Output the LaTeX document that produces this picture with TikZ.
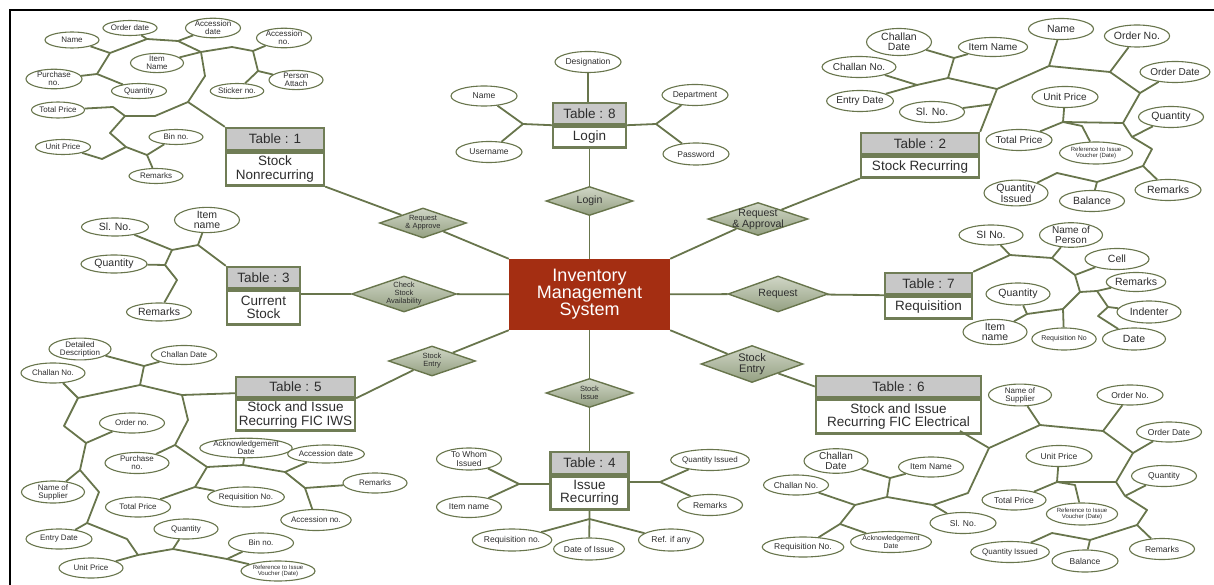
\documentclass[tikz,border=0pt]{standalone}
\usepackage{fontspec}
\setmainfont{Liberation Sans}
\usetikzlibrary{shapes.geometric,calc}
\definecolor{olv}{RGB}{104,117,76}
\definecolor{tblline}{RGB}{112,125,86}
\definecolor{hdr}{RGB}{200,200,200}
\definecolor{corefill}{RGB}{164,46,18}
\definecolor{dtop}{RGB}{208,214,198}
\definecolor{dbot}{RGB}{148,160,130}
\definecolor{ink}{RGB}{45,45,45}
\begin{document}
\begin{tikzpicture}[x=1pt,y=-1pt,
  attr/.style={ellipse, draw=olv, line width=1.1pt, fill=white, inner sep=0pt, align=center, text=ink},
  sz/.style 2 args={minimum width=#1, minimum height=#2},
  fA/.style={font=\fontsize{8}{8}\selectfont},
  fB/.style={font=\fontsize{8.5}{8.5}\selectfont},
  fC/.style={font=\fontsize{10.5}{10.5}\selectfont},
  fD/.style={font=\fontsize{6}{6.5}\selectfont},
  fE/.style={font=\fontsize{7}{7.5}\selectfont},
  fF/.style={font=\fontsize{10}{10}\selectfont},
  lnk/.style={draw=olv, line width=1.8pt, line join=round},
  thead/.style={rectangle, draw=tblline, line width=2.4pt, fill=hdr, inner sep=0pt, text=ink, font=\fontsize{13.5}{14}\selectfont},
  tbody/.style={rectangle, draw=tblline, line width=2.4pt, fill=white, inner sep=0pt, align=center, text=ink, font=\fontsize{13.5}{13.5}\selectfont},
  rel/.style={diamond, draw=olv, line width=1.4pt, top color=dtop, bottom color=dbot, inner sep=0pt},
  dlS/.style={align=center, inner sep=0pt, text=ink, font=\fontsize{7.5}{8}\selectfont},
  dlL/.style={align=center, inner sep=0pt, text=ink, font=\fontsize{10.5}{11}\selectfont},
]
\useasboundingbox (0,0) rectangle (1214,585);

% outer frame
\draw[black, line width=2.4pt] (10,585) -- (10,10) -- (1214,10);

% ---------- central entity ----------
\node[rectangle, fill=corefill, minimum width=161, minimum height=71, inner sep=0pt, text=white, align=center, font=\fontsize{18}{17}\selectfont] (core) at (589.5,294.5) {Inventory\\Management\\System};

% ---------- relationships ----------
\node[rel, sz={87}{30}, label={[dlS]center:Request\\\& Approve}] (dra) at (423,223) {};
\node[rel, sz={105}{36}, label={[dlS]center:Check\\Stock\\Availability}] (dchk) at (404,294) {};
\node[rel, sz={87}{29}, label={[dlL]center:Login}] (dlogin) at (589.5,201) {};
\node[rel, sz={100}{33}, label={[dlL]center:Request\\\& Approval}] (dapv) at (758,219) {};
\node[rel, sz={100}{36}, label={[dlL]center:Request}] (dreq) at (778,294) {};
\node[rel, sz={87}{30}, label={[dlS]center:Stock\\Entry}] (dsel) at (432,361) {};
\node[rel, sz={87}{29}, label={[dlS]center:Stock\\Issue}] (dsi) at (589.5,393) {};
\node[rel, sz={102}{37}, label={[dlL,font=\fontsize{11}{11.5}\selectfont]center:Stock\\Entry}] (dser) at (752,364) {};

% ---------- tables ----------
\node[thead, sz={98}{22}] (t1h) at (275,139) {Table : 1};
\node[tbody, sz={98}{33}, anchor=north] (t1b) at (t1h.south) {Stock\\Nonrecurring};
\node[thead, sz={73}{21}] (t8h) at (589.5,113.5) {Table : 8};
\node[tbody, sz={73}{21}, anchor=north] (t8b) at (t8h.south) {Login};
\node[thead, sz={118}{21}] (t2h) at (920,143.5) {Table : 2};
\node[tbody, sz={118}{21}, anchor=north] (t2b) at (t2h.south) {Stock Recurring};
\node[thead, sz={73}{21}] (t3h) at (263.5,277.5) {Table : 3};
\node[tbody, sz={73}{34}, anchor=north] (t3b) at (t3h.south) {Current\\Stock};
\node[thead, sz={87}{21}] (t7h) at (928.5,283.5) {Table : 7};
\node[tbody, sz={87}{22}, anchor=north] (t7b) at (t7h.south) {Requisition};
\node[thead, sz={119}{20}] (t5h) at (295.5,387) {Table : 5};
\node[tbody, sz={119}{31}, anchor=north] (t5b) at (t5h.south) {Stock and Issue\\Recurring FIC IWS};
\node[thead, sz={78}{22}] (t4h) at (589.5,463) {Table : 4};
\node[tbody, sz={78}{33}, anchor=north] (t4b) at (t4h.south) {Issue\\Recurring};
\node[thead, sz={165}{21}] (t6h) at (898.5,386.5) {Table : 6};
\node[tbody, sz={165}{34}, anchor=north] (t6b) at (t6h.south) {Stock and Issue\\Recurring FIC Electrical};

% ---------- links between entities ----------
\draw[lnk] (t1b.south east) -- (dra) -- (core.north west);
\draw[lnk] (t8b.south) -- (dlogin) -- (core);
\draw[lnk] (t2b.south west) -- (dapv) -- (core.north east);
\draw[lnk] (t3b.east |- dchk) -- (dchk) -- (core);
\draw[lnk] (core) -- (dreq) -- (t7b.north west);
\draw[lnk] (t5h.south east) -- (dsel) -- (core.south west);
\draw[lnk] (core) -- (dsi) -- (t4h.north);
\draw[lnk] (core.south east) -- (dser) -- (t6h.west);

% ---------- Table 1 attributes ----------
\node[attr,sz={54}{16},fA] (n1name) at (72,40) {Name};
\node[attr,sz={54}{15},fA] (n1od) at (130,28) {Order date};
\node[attr,sz={55}{19},fA] (n1ad) at (213,28) {Accession\\date};
\node[attr,sz={55}{18},fA] (n1an) at (284,38) {Accession\\no.};
\node[attr,sz={53}{17},fA] (n1it) at (157,63) {Item\\Name};
\node[attr,sz={56}{17},fA] (n1pn) at (54,79) {Purchase\\no.};
\node[attr,sz={55}{15},fA] (n1qt) at (139,91) {Quantity};
\node[attr,sz={54}{19},fA] (n1pa) at (296,80) {Person\\Attach};
\node[attr,sz={53}{15},fA] (n1st) at (237,91) {Sticker no.};
\node[attr,sz={53}{16},fA] (n1tp) at (58,110) {Total Price};
\node[attr,sz={54}{15},fA] (n1bn) at (176,137) {Bin no.};
\node[attr,sz={55}{15},fA] (n1up) at (63,147) {Unit Price};
\node[attr,sz={54}{15},fA] (n1rm) at (156,176) {Remarks};
\coordinate (j1a) at (188,102);
\coordinate (j1b) at (205,76);
\coordinate (j1c) at (201,52);
\coordinate (j1d) at (178,41);
\coordinate (j1e) at (147,39);
\coordinate (j1f) at (110,53);
\coordinate (j1g) at (97,74);
\coordinate (j1h) at (232,47);
\coordinate (j1i) at (253,51);
\coordinate (j1j) at (258,71);
\coordinate (j1k) at (155,116);
\coordinate (j1l) at (125,116);
\coordinate (j1m) at (113,107);
\coordinate (j1n) at (110,133);
\coordinate (j1o) at (126,147);
\coordinate (j1p) at (147,155);
\coordinate (j1q) at (102,159);
\draw[lnk] (t1h.north west) -- (j1a) -- (j1b) -- (j1c) -- (j1d) -- (j1e) -- (j1f) -- (j1g);
\draw[lnk] (j1c) -- (n1it);
\draw[lnk] (j1c) -- (j1h) -- (j1i) -- (n1an);
\draw[lnk] (j1i) -- (j1j) -- (n1pa);
\draw[lnk] (j1j) -- (n1st);
\draw[lnk] (j1d) -- (n1ad);
\draw[lnk] (j1e) -- (n1od);
\draw[lnk] (j1f) -- (n1name);
\draw[lnk] (j1g) -- (n1pn);
\draw[lnk] (j1g) -- (n1qt);
\draw[lnk] (j1a) -- (j1k) -- (j1l) -- (j1m) -- (n1tp);
\draw[lnk] (j1l) -- (j1n) -- (j1o) -- (j1p) -- (n1bn);
\draw[lnk] (j1o) -- (j1q) -- (n1up);
\draw[lnk] (j1p) -- (n1rm);

% ---------- Table 8 attributes ----------
\node[attr,sz={66}{21},fB] (n8des) at (588,62) {Designation};
\node[attr,sz={66}{20},fB] (n8nm) at (484,96) {Name};
\node[attr,sz={66}{21},fB] (n8us) at (489,152) {Username};
\node[attr,sz={66}{21},fB] (n8dp) at (695,95) {Department};
\node[attr,sz={66}{22},fB] (n8pw) at (696,154) {Password};
\coordinate (j8a) at (523,124);
\coordinate (j8b) at (656,124);
\draw[lnk] (n8des.south) -- (n8des.south |- t8h.north);
\draw[lnk] (t8h.south west) -- (j8a) -- (n8nm);
\draw[lnk] (j8a) -- (n8us);
\draw[lnk] (t8h.south east) -- (j8b) -- (n8dp);
\draw[lnk] (j8b) -- (n8pw);

% ---------- Table 2 attributes ----------
\node[attr,sz={65}{27},fC] (n2cd) at (899,42) {Challan\\Date};
\node[attr,sz={62}{19},fF] (n2in) at (993,47) {Item Name};
\node[attr,sz={65}{21},fC] (n2nm) at (1061,29) {Name};
\node[attr,sz={65}{22},fC] (n2on) at (1137,36) {Order No.};
\node[attr,sz={65}{21},fF] (n2cn) at (859,67) {Challan No.};
\node[attr,sz={64}{21},fF] (n2od) at (1175,72) {Order Date};
\node[attr,sz={66}{21},fF] (n2ed) at (860,101) {Entry Date};
\node[attr,sz={65}{21},fC] (n2sl) at (932,112) {Sl. No.};
\node[attr,sz={66}{21},fF] (n2up) at (1065,97) {Unit Price};
\node[attr,sz={65}{21},fC] (n2qt) at (1171,117) {Quantity};
\node[attr,sz={66}{21},fF] (n2tp) at (1019,140) {Total Price};
\node[attr,sz={73}{22},fD] (n2rf) at (1096,153) {Reference to Issue\\Voucher (Date)};
\node[attr,sz={64}{22},fC] (n2qi) at (1016,193) {Quantity\\Issued};
\node[attr,sz={65}{21},fC] (n2bl) at (1092,201) {Balance};
\node[attr,sz={66}{21},fC] (n2rm) at (1168,190) {Remarks};
\coordinate (j2a) at (997,89);
\coordinate (j2b) at (948,78);
\coordinate (j2c) at (954,58);
\coordinate (j2d) at (917,85);
\coordinate (j2e) at ($(t2h.north east)!0.64!(j2a)$);
\coordinate (j2f) at (1049,66);
\coordinate (j2g) at (1110,72);
\coordinate (j2h) at (1140,93);
\coordinate (j2i) at (1123,123);
\coordinate (j2k) at (1132,137);
\coordinate (j2l) at (1152,149);
\coordinate (j2m) at (1143,166);
\coordinate (j2n) at (1097,182);
\coordinate (j2o) at (1057,173);
\coordinate (j2u) at (1063,122);
\coordinate (j2v) at (1082,126);
\draw[lnk] (t2h.north east) -- (j2a) -- (j2b) -- (j2c) -- (n2cd);
\draw[lnk] (j2c) -- (n2in);
\draw[lnk] (j2b) -- (j2d) -- (n2cn);
\draw[lnk] (j2d) -- (n2ed);
\draw[lnk] (j2e) -- (n2sl);
\draw[lnk] (j2a) -- (j2f) -- (n2nm);
\draw[lnk] (j2f) -- (j2g) -- (n2on);
\draw[lnk] (j2g) -- (j2h) -- (n2od);
\draw[lnk] (j2h) -- (j2i) -- (j2k) -- (n2qt);
\draw[lnk] (j2k) -- (j2l) -- (j2m) -- (n2rm);
\draw[lnk] (j2m) -- (j2n) -- (n2bl);
\draw[lnk] (j2n) -- (j2o) -- (n2qi);
\draw[lnk] (j2i) -- (j2u) -- (n2up);
\draw[lnk] (j2u) -- (n2tp);
\draw[lnk] (j2u) -- (j2v) -- (n2rf);

% ---------- Table 3 attributes ----------
\node[attr,sz={67}{18},fC] (n3sl) at (115,227) {Sl. No.};
\node[attr,sz={65}{20},fC] (n3it) at (207,220) {Item\\name};
\node[attr,sz={66}{18},fC] (n3qt) at (114,264) {Quantity};
\node[attr,sz={65}{18},fC] (n3rm) at (159,312) {Remarks};
\coordinate (j3a) at (198,245);
\coordinate (j3b) at (172,250);
\coordinate (j3c) at (165,265);
\coordinate (j3d) at (177,280);
\draw[lnk] (t3h.north west) -- (j3a) -- (n3it);
\draw[lnk] (j3a) -- (j3b) -- (n3sl);
\draw[lnk] (j3b) -- (j3c) -- (n3qt);
\draw[lnk] (j3c) -- (j3d) -- (n3rm);

% ---------- Table 7 attributes ----------
\node[attr,sz={64}{20},fC] (n7sl) at (991,235) {SI No.};
\node[attr,sz={63}{20},fF] (n7np) at (1071,235) {Name of\\Person};
\node[attr,sz={64}{21},fC] (n7ce) at (1117,259) {Cell};
\node[attr,sz={55}{19},fC] (n7rm) at (1136,282) {Remarks};
\node[attr,sz={64}{22},fC] (n7in) at (1149,312) {Indenter};
\node[attr,sz={63}{22},fC] (n7dt) at (1134,339) {Date};
\node[attr,sz={64}{22},fC] (n7qt) at (1018,294) {Quantity};
\node[attr,sz={64}{22},fC] (n7it) at (995,332) {Item\\name};
\node[attr,sz={62}{22},fE] (n7rn) at (1064,339) {Requisition No};
\coordinate (j7a) at (1010,255);
\coordinate (j7b) at (1052,258);
\coordinate (j7c) at (1075,275);
\coordinate (j7d) at (1080,292);
\coordinate (j7e) at (1097,291);
\coordinate (j7f) at (1108,307);
\coordinate (j7g) at (1098,316);
\coordinate (j7h) at (1063,309);
\coordinate (j7i) at (1027,314);
\draw[lnk] (t7h.north east) -- (j7a) -- (n7sl);
\draw[lnk] (j7a) -- (j7b) -- (n7np);
\draw[lnk] (j7b) -- (j7c) -- (n7ce);
\draw[lnk] (j7c) -- (j7d) -- (j7e) -- (n7rm);
\draw[lnk] (j7e) -- (j7f) -- (n7in);
\draw[lnk] (j7f) -- (j7g) -- (n7dt);
\draw[lnk] (j7d) -- (j7h) -- (n7rn);
\draw[lnk] (j7h) -- (j7i) -- (n7qt);
\draw[lnk] (j7i) -- (n7it);

% ---------- Table 5 attributes ----------
\node[attr,sz={62}{20},fA] (n5dd) at (80,349) {Detailed\\Description};
\node[attr,sz={64}{19},fA] (n5cd) at (184,355) {Challan Date};
\node[attr,sz={64}{20},fA] (n5cn) at (53,373) {Challan No.};
\node[attr,sz={65}{20},fA] (n5on) at (132,423) {Order no.};
\node[attr,sz={72}{19},fA] (n5ak) at (246,448) {Acknowledgement\\Date};
\node[attr,sz={64}{18},fA] (n5ad) at (326,454) {Accession date};
\node[attr,sz={64}{21},fA] (n5pn) at (137,463) {Purchase\\no.};
\node[attr,sz={64}{20},fA] (n5rm) at (375,483) {Remarks};
\node[attr,sz={63}{22},fA] (n5ns) at (53,492) {Name of\\Supplier};
\node[attr,sz={64}{20},fA] (n5rq) at (246,497) {Requisition No.};
\node[attr,sz={65}{20},fA] (n5tp) at (138,507) {Total Price};
\node[attr,sz={64}{21},fA] (n5an) at (316,520) {Accession no.};
\node[attr,sz={64}{20},fA] (n5qt) at (186,529) {Quantity};
\node[attr,sz={66}{20},fA] (n5ed) at (59,539) {Entry Date};
\node[attr,sz={65}{20},fA] (n5bn) at (261,543) {Bin no.};
\node[attr,sz={64}{20},fA] (n5up) at (91,568) {Unit Price};
\node[attr,sz={74}{20},fD] (n5rf) at (278,571) {Reference to Issue\\Voucher (Date)};
\coordinate (j5s0) at ($(t5h.south west)+(0,-5)$);
\coordinate (j5a) at (182,395);
\coordinate (j5b) at (140,385);
\coordinate (j5c) at (144,366);
\coordinate (j5d) at (78,398);
\coordinate (j5e) at (64,426);
\coordinate (j5f) at (86,443);
\coordinate (j5g) at (80,470);
\coordinate (j5h) at (99,492);
\coordinate (j5i) at (87,523);
\coordinate (j5j) at (127,539);
\coordinate (j5k) at (138,555);
\coordinate (j5l) at (173,549);
\coordinate (j5m) at (227,559);
\coordinate (j5n) at (188,420);
\coordinate (j5o) at (175,445);
\coordinate (j5p) at (207,467);
\coordinate (j5q) at (243,465);
\coordinate (j5r) at (285,472);
\coordinate (j5s) at (305,488);
\coordinate (j5t) at (195,487);
\draw[lnk] (j5s0) -- (j5a) -- (j5b) -- (j5c) -- (n5dd);
\draw[lnk] (j5c) -- (n5cd);
\draw[lnk] (j5b) -- (j5d) -- (n5cn);
\draw[lnk] (j5d) -- (j5e) -- (j5f) -- (n5on);
\draw[lnk] (j5f) -- (j5g) -- (n5ns);
\draw[lnk] (j5g) -- (j5h) -- (j5i) -- (n5ed);
\draw[lnk] (j5i) -- (j5j) -- (j5k) -- (n5up);
\draw[lnk] (j5k) -- (j5l) -- (n5qt);
\draw[lnk] (j5l) -- (j5m) -- (n5bn);
\draw[lnk] (j5m) -- (n5rf);
\draw[lnk] (j5a) -- (j5n) -- (j5o) -- (n5pn);
\draw[lnk] (j5o) -- (j5p) -- (j5q) -- (n5ak);
\draw[lnk] (j5q) -- (j5r) -- (n5ad);
\draw[lnk] (j5r) -- (j5s) -- (n5rm);
\draw[lnk] (j5s) -- (n5an);
\draw[lnk] (j5p) -- (j5t) -- (n5tp);
\draw[lnk] (j5t) -- (n5rq);

% ---------- Table 4 attributes ----------
\node[attr,sz={65}{22},fB] (n4tw) at (469,459) {To Whom\\Issued};
\node[attr,sz={65}{21},fB] (n4it) at (469,507) {Item name};
\node[attr,sz={65}{21},fA] (n4qi) at (710,460) {Quantity Issued};
\node[attr,sz={65}{21},fB] (n4rm) at (710,505) {Remarks};
\node[attr,sz={65}{22},fB] (n4rq) at (512,540) {Requisition no.};
\node[attr,sz={65}{22},fB] (n4di) at (589,549) {Date of Issue};
\node[attr,sz={65}{22},fB] (n4rf) at (671,540) {Ref. if any};
\coordinate (j4a) at (519,484);
\coordinate (j4b) at (660,482);
\coordinate (j4c) at (589.5,519);
\draw[lnk] (j4a -| t4b.west) -- (j4a) -- (n4tw);
\draw[lnk] (j4a) -- (n4it);
\draw[lnk] (j4b -| t4b.east) -- (j4b) -- (n4qi);
\draw[lnk] (j4b) -- (n4rm);
\draw[lnk] (t4b.south) -- (j4c) -- (n4rq);
\draw[lnk] (j4c) -- (n4di);
\draw[lnk] (j4c) -- (n4rf);

% ---------- Table 6 attributes ----------
\node[attr,sz={63}{20},fA] (n6ns) at (1020,395) {Name of\\Supplier};
\node[attr,sz={66}{20},fB] (n6on) at (1130,395) {Order No.};
\node[attr,sz={65}{20},fB] (n6od) at (1169,432) {Order Date};
\node[attr,sz={66}{21},fB] (n6up) at (1059,456) {Unit Price};
\node[attr,sz={65}{21},fB] (n6qt) at (1164,476) {Quantity};
\node[attr,sz={64}{24},fF] (n6cd) at (836,461) {Challan\\Date};
\node[attr,sz={65}{20},fB] (n6in) at (931,467) {Item Name};
\node[attr,sz={65}{20},fB] (n6cn) at (796,485) {Challan No.};
\node[attr,sz={64}{20},fB] (n6tp) at (1014,500) {Total Price};
\node[attr,sz={71}{22},fD] (n6rf) at (1082,514) {Reference to Issue\\Voucher (Date)};
\node[attr,sz={66}{21},fB] (n6sl) at (963,523) {Sl. No.};
\node[attr,sz={65}{20},fB] (n6rq) at (803,547) {Requisition No.};
\node[attr,sz={64}{21},fE] (n6ak) at (891,542) {Acknowledgement\\Date};
\node[attr,sz={64}{21},fA] (n6qi) at (1010,552) {Quantity Issued};
\node[attr,sz={66}{22},fB] (n6bl) at (1085,561) {Balance};
\node[attr,sz={65}{21},fB] (n6rm) at (1162,549) {Remarks};
\coordinate (j6s) at (960,431);
\coordinate (j6a) at (989,448);
\coordinate (j6b) at (1040,425);
\coordinate (j6c) at (1103,431);
\coordinate (j6d) at (1133,453);
\coordinate (j6e) at (1116,482);
\coordinate (j6u) at (1057,482);
\coordinate (j6v) at (1075,485);
\coordinate (j6f) at (1125,496);
\coordinate (j6g) at (1147,510);
\coordinate (j6h) at (1137,525);
\coordinate (j6i) at (1090,540);
\coordinate (j6j) at (1052,533);
\coordinate (j6k) at (968,493);
\coordinate (j6l) at (933,505);
\coordinate (j6m) at (887,497);
\coordinate (j6n) at (890,478);
\coordinate (j6o) at (855,505);
\coordinate (j6p) at (840,524);
\draw[lnk] (j6s) -- (j6a) -- (j6b) -- (n6ns);
\draw[lnk] (j6b) -- (j6c) -- (n6on);
\draw[lnk] (j6c) -- (j6d) -- (n6od);
\draw[lnk] (j6d) -- (j6e) -- (j6u) -- (n6up);
\draw[lnk] (j6u) -- (n6tp);
\draw[lnk] (j6u) -- (j6v) -- (n6rf);
\draw[lnk] (j6e) -- (j6f) -- (n6qt);
\draw[lnk] (j6f) -- (j6g) -- (j6h) -- (n6rm);
\draw[lnk] (j6h) -- (j6i) -- (n6bl);
\draw[lnk] (j6i) -- (j6j) -- (n6qi);
\draw[lnk] (j6a) -- (j6k) -- (j6l) -- (n6sl);
\draw[lnk] (j6l) -- (j6m) -- (j6n) -- (n6cd);
\draw[lnk] (j6n) -- (n6in);
\draw[lnk] (j6m) -- (j6o) -- (n6cn);
\draw[lnk] (j6o) -- (j6p) -- (n6rq);
\draw[lnk] (j6p) -- (n6ak);
\end{tikzpicture}
\end{document}
